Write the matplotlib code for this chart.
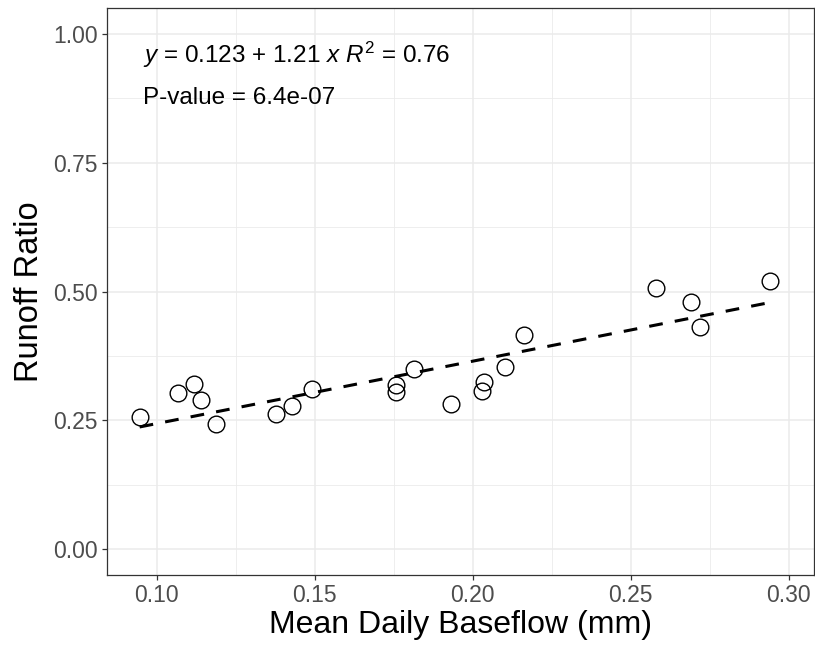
import matplotlib
matplotlib.use("Agg")
import matplotlib.pyplot as plt
import numpy as np
from matplotlib.ticker import MultipleLocator

plt.rcParams['font.family'] = ['Liberation Sans', 'DejaVu Sans']
plt.rcParams['mathtext.fontset'] = 'custom'
plt.rcParams['mathtext.rm'] = 'Liberation Sans'
plt.rcParams['mathtext.it'] = 'Liberation Sans:italic'

# Data
baseflow = [0.0946, 0.1067, 0.1117, 0.1141, 0.1187, 0.1377, 0.1429, 0.1491,
            0.1756, 0.1756, 0.1813, 0.1930, 0.2029, 0.2037, 0.2103, 0.2162,
            0.2578, 0.2689, 0.2718, 0.2940]
runoff_ratio = [0.257, 0.304, 0.321, 0.289, 0.244, 0.262, 0.279, 0.311,
                0.318, 0.306, 0.350, 0.281, 0.308, 0.324, 0.353, 0.416,
                0.506, 0.480, 0.432, 0.520]
fit_intercept = 0.123
fit_slope = 1.21
r_squared = 0.76
p_value_text = "6.4e-07"
x_ticks = [0.10, 0.15, 0.20, 0.25, 0.30]
y_ticks = [0.00, 0.25, 0.50, 0.75, 1.00]

fig = plt.figure(figsize=(8.15, 6.5), dpi=100)
ax = fig.add_axes([0.131, 0.115, 0.868, 0.873])

ax.set_xlim(0.0842, 0.3080)
ax.set_ylim(-0.05, 1.05)

ax.xaxis.set_minor_locator(MultipleLocator(0.025))
ax.yaxis.set_minor_locator(MultipleLocator(0.125))
ax.set_xticks(x_ticks)
ax.set_yticks(y_ticks)
ax.set_xticklabels([f"{v:.2f}" for v in x_ticks])
ax.set_yticklabels([f"{v:.2f}" for v in y_ticks])

ax.grid(which='major', color='#EBEBEB', linewidth=1.1)
ax.grid(which='minor', color='#EBEBEB', linewidth=0.6)
ax.set_axisbelow(True)

for s in ax.spines.values():
    s.set_color('#333333')
    s.set_linewidth(0.9)

ax.tick_params(which='major', direction='out', length=3.5, width=0.9,
               color='#333333', labelcolor='#4D4D4D', labelsize=16.5, pad=3)
ax.tick_params(which='minor', length=0)

xs = np.array([min(baseflow), max(baseflow)])
line, = ax.plot(xs, fit_intercept + fit_slope * xs, color='black', linewidth=2.2)
line.set_dashes([4.5, 4])

ax.plot(baseflow, runoff_ratio, linestyle='none', marker='o', markersize=12,
        markerfacecolor='none', markeredgecolor='black', markeredgewidth=1.0)

ax.text(0.0956, 0.944,
        r"$y$ = 0.123 + 1.21 $x$ $R^2$ = " + f"{r_squared:.2f}",
        fontsize=17.5, ha='left', va='baseline', color='black')
ax.text(0.0956, 0.863, f"P-value = {p_value_text}",
        fontsize=17.5, ha='left', va='baseline', color='black')

ax.set_xlabel("Mean Daily Baseflow (mm)", fontsize=23, color='black', labelpad=2)
ax.set_ylabel("Runoff Ratio", fontsize=23.5, color='black', labelpad=6)

fig.savefig("out.png", dpi=100, facecolor='white')
